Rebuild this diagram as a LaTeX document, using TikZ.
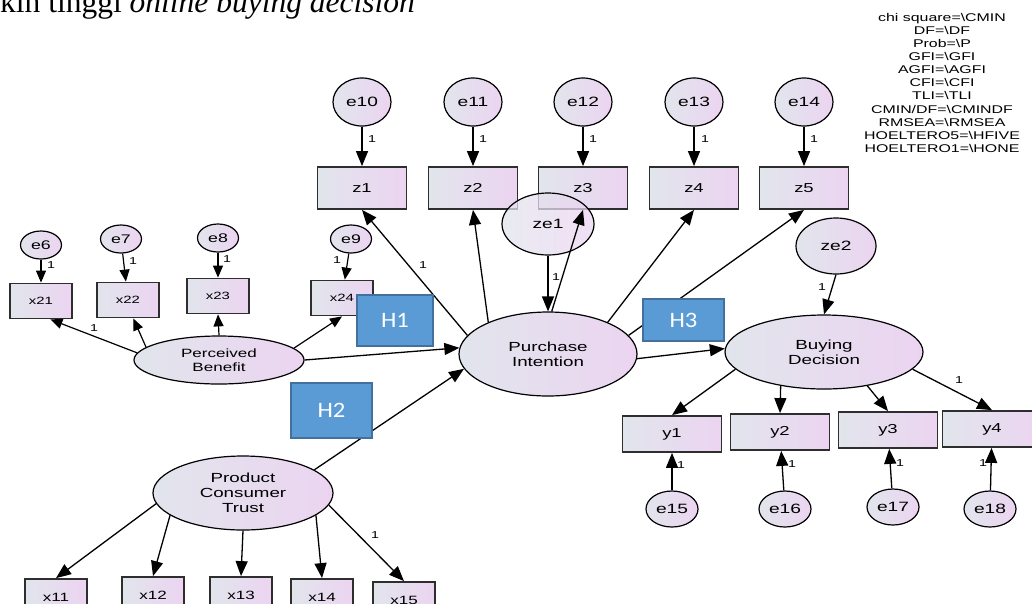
\documentclass[tikz,border=0pt]{standalone}
\usepackage{fontspec}
\setmainfont{Liberation Sans}
\newfontfamily\amos[FakeStretch=1.42]{Liberation Sans}
\newfontfamily\capfont{Liberation Serif}
\newfontfamily\hfont[FakeStretch=1.12]{Carlito}
\usetikzlibrary{arrows.meta,shapes.geometric}
\definecolor{nL}{HTML}{E1E5EC}
\definecolor{nR}{HTML}{ECD4F1}
\definecolor{hblue}{HTML}{5B9BD5}
\definecolor{hborder}{HTML}{41719C}
\definecolor{boxline}{HTML}{2E2E2E}
\tikzset{
 obs/.style={rectangle, draw=boxline, line width=1.8pt, left color=nL, right color=nR, inner sep=0pt, font=\amos\fontsize{13}{15}\selectfont},
 sobs/.style={obs, font=\amos\fontsize{10.5}{12}\selectfont},
 lat/.style={ellipse, draw=black, line width=1.2pt, left color=nL, right color=nR, inner sep=0pt, align=center, font=\amos\fontsize{13.2}{15}\selectfont},
 err/.style={ellipse, draw=black, line width=1.2pt, left color=nL, right color=nR, inner sep=0pt, font=\amos\fontsize{13.5}{15}\selectfont},
 serr/.style={err, font=\amos\fontsize{12.5}{14}\selectfont},
 arr/.style={line width=1.3pt, -{Triangle[length=15pt,width=12pt]}},
 sarr/.style={line width=1.2pt, -{Triangle[length=12pt,width=10pt]}},
 one/.style={font=\amos\fontsize{10}{11}\selectfont, inner sep=0pt},
 hyp/.style={rectangle, fill=hblue, draw=hborder, line width=1.5pt, text=white, font=\hfont\fontsize{22}{24}\selectfont, inner sep=0pt},
}
\begin{document}
\begin{tikzpicture}[x=1pt,y=-1pt]
\useasboundingbox (0,0) rectangle (1032,603);
\clip (0,0) rectangle (1032,603);

% caption and statistics
\node[anchor=base west, inner sep=0pt, font=\capfont\fontsize{31.5}{36}\selectfont] (cap) at (0,12) {kin tinggi \textit{online buying decision}};
\node[anchor=north, align=center, inner sep=0pt, font=\amos\fontsize{11.2}{13.1}\selectfont] (stats) at (942,13)
 {chi square=\textbackslash CMIN\\DF=\textbackslash DF\\Prob=\textbackslash P\\GFI=\textbackslash GFI\\AGFI=\textbackslash AGFI\\CFI=\textbackslash CFI\\TLI=\textbackslash TLI\\CMIN/DF=\textbackslash CMINDF\\RMSEA=\textbackslash RMSEA\\HOELTERO5=\textbackslash HFIVE\\HOELTERO1=\textbackslash HONE};

% top indicators
\node[err, minimum width=58pt, minimum height=48pt] (e10) at (362,102) {e10};
\node[err, minimum width=58pt, minimum height=48pt] (e11) at (473,102) {e11};
\node[err, minimum width=58pt, minimum height=48pt] (e12) at (583,102) {e12};
\node[err, minimum width=58pt, minimum height=48pt] (e13) at (694,102) {e13};
\node[err, minimum width=58pt, minimum height=48pt] (e14) at (804,102) {e14};
\node[obs, minimum width=89pt, minimum height=42pt] (z1) at (362,188) {z1};
\node[obs, minimum width=89pt, minimum height=42pt] (z2) at (473,188) {z2};
\node[obs, minimum width=89pt, minimum height=42pt] (z3) at (583,188) {z3};
\node[obs, minimum width=89pt, minimum height=42pt] (z4) at (694,188) {z4};
\node[obs, minimum width=89pt, minimum height=42pt] (z5) at (804,188) {z5};
\node[err, minimum width=92pt, minimum height=62pt, fill opacity=0.75, text opacity=1] (ze1) at (548,224) {ze1};
\node[err, minimum width=80pt, minimum height=56pt] (ze2) at (836,246) {ze2};

% latent variables
\node[lat, minimum width=178pt, minimum height=84pt] (pi) at (548,354) {Purchase\\Intention};
\node[lat, minimum width=198pt, minimum height=74pt] (bd) at (824,352) {Buying\\Decision};
\node[lat, minimum width=170pt, minimum height=48pt, font=\amos\fontsize{12}{14}\selectfont] (pb) at (219,360) {Perceived\\Benefit};
\node[lat, minimum width=180pt, minimum height=74pt] (pct) at (243,493) {Product\\Consumer\\Trust};

% perceived benefit indicators
\node[serr, minimum width=41pt, minimum height=28pt] (e6) at (41,245) {e6};
\node[serr, minimum width=41pt, minimum height=28pt] (e7) at (121,239) {e7};
\node[serr, minimum width=41pt, minimum height=28pt] (e8) at (218,238) {e8};
\node[serr, minimum width=41pt, minimum height=28pt] (e9) at (351,239) {e9};
\node[sobs, minimum width=62pt, minimum height=35pt] (x21) at (41,301) {x21};
\node[sobs, minimum width=62pt, minimum height=35pt] (x22) at (128,300) {x22};
\node[sobs, minimum width=62pt, minimum height=35pt] (x23) at (218,296) {x23};
\node[sobs, minimum width=62pt, minimum height=35pt] (x24) at (342,298) {x24};

% product consumer trust indicators
\node[sobs, minimum width=62pt, minimum height=36pt, font=\amos\fontsize{12}{13}\selectfont] (x11) at (56,597) {x11};
\node[sobs, minimum width=62pt, minimum height=36pt, font=\amos\fontsize{12}{13}\selectfont] (x12) at (153,595) {x12};
\node[sobs, minimum width=62pt, minimum height=36pt, font=\amos\fontsize{12}{13}\selectfont] (x13) at (241,595) {x13};
\node[sobs, minimum width=62pt, minimum height=36pt, font=\amos\fontsize{12}{13}\selectfont] (x14) at (322,597) {x14};
\node[sobs, minimum width=62pt, minimum height=36pt, font=\amos\fontsize{12}{13}\selectfont] (x15) at (404,600) {x15};

% buying decision indicators
\node[obs, minimum width=99pt, minimum height=36pt] (y1) at (672,434) {y1};
\node[obs, minimum width=99pt, minimum height=36pt] (y2) at (780,432) {y2};
\node[obs, minimum width=99pt, minimum height=36pt] (y3) at (888,430) {y3};
\node[obs, minimum width=99pt, minimum height=36pt] (y4) at (992,429) {y4};
\node[err, minimum width=52pt, minimum height=36pt] (e15) at (672,509) {e15};
\node[err, minimum width=52pt, minimum height=36pt] (e16) at (785,509) {e16};
\node[err, minimum width=52pt, minimum height=36pt] (e17) at (893,507) {e17};
\node[err, minimum width=52pt, minimum height=36pt] (e18) at (990,509) {e18};

% error arrows top
\draw[arr] (e10.south) -- (z1.north);
\draw[arr] (e11.south) -- (z2.north);
\draw[arr] (e12.south) -- (z3.north);
\draw[arr] (e13.south) -- (z4.north);
\draw[arr] (e14.south) -- (z5.north);
\node[one] (l10) at (372,139) {1};
\node[one] (l11) at (483,139) {1};
\node[one] (l12) at (593,139) {1};
\node[one] (l13) at (705,139) {1};
\node[one] (l14) at (814,139) {1};

% purchase intention to z
\draw[arr] (pi.167) -- (z1.south);
\draw[arr] (pi.152) -- (z2.south);
\draw[arr] (pi.28) -- (z4.south);
\draw[arr] (pi.13) -- (z5.south);
\node[one] (lz1) at (423,265) {1};
\draw[arr] (ze1.south) -- (pi.north);
\draw[arr] (pi.85) -- (z3.south);
\node[one] (lze1) at (556,277) {1};

% perceived benefit
\draw[sarr] (e6.south) -- (x21.north);
\draw[sarr] (e7) -- (x22);
\draw[sarr] (e8.south) -- (x23.north);
\draw[sarr] (e9) -- (x24);
\node[one] (l6) at (51,265) {1};
\node[one] (l7) at (133,261) {1};
\node[one] (l8) at (227,259) {1};
\node[one] (l9) at (337,260) {1};
\draw[sarr] (pb.175) -- (x21.-63);
\draw[sarr] (pb.170) -- (x22.-74);
\draw[sarr] (pb.north) -- (x23.south);
\draw[sarr] (pb.9) -- (x24.south);
\node[one] (lx21) at (94,328) {1};
\draw[arr] (pb.east) -- (pi.176);

% product consumer trust
\draw[arr] (pct.18) -- (pi.190);
\draw[arr] (pct.187) -- (x11.north);
\draw[arr] (pct.197) -- (x12.north);
\draw[arr] (pct.south) -- (x13.north);
\draw[arr] (pct.-17) -- (x14.north);
\draw[arr] (pct.-8) -- (x15.north);
\node[one] (lx15) at (375,535) {1};

% buying decision
\draw[arr] (pi.-3) -- (bd.178);
\draw[arr] (ze2.south) -- (bd.north);
\node[one] (lze2) at (822,287) {1};
\draw[arr] (bd.191) -- (y1.north);
\draw[arr] (bd.218) -- (y2.north);
\draw[arr] (bd.-38) -- (y3.north);
\draw[arr] (bd.-11) -- (y4.north);
\node[one] (ly4) at (959,380) {1};
\draw[arr] (e15.north) -- (y1.south);
\draw[arr] (e16) -- (y2);
\draw[arr] (e17) -- (y3);
\draw[arr] (e18) -- (y4);
\node[one] (l15) at (681,465) {1};
\node[one] (l16) at (792,464) {1};
\node[one] (l17) at (900,463) {1};
\node[one] (l18) at (983,463) {1};

% hypothesis boxes
\node[hyp, minimum width=76pt, minimum height=51pt] (h1) at (395,320.5) {H1};
\node[hyp, minimum width=81pt, minimum height=55pt] (h2) at (331.5,410.5) {H2};
\node[hyp, minimum width=81pt, minimum height=42pt] (h3) at (683.5,320) {H3};
\end{tikzpicture}
\end{document}
